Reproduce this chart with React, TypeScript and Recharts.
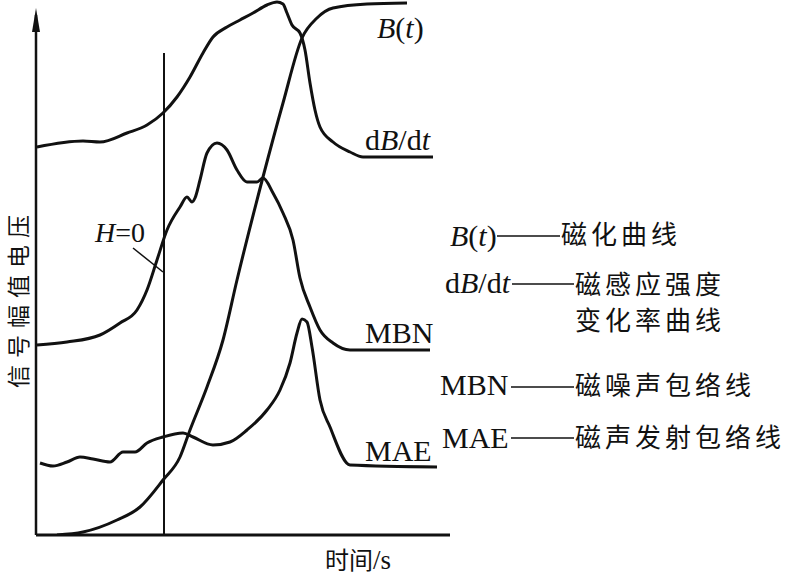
import React from "react";
import { LineChart, Line, XAxis, YAxis, ReferenceLine, ReferenceDot, Customized } from "recharts";

// time axis (px from y-axis) and signal amplitude (px above x-axis)
const bTime = [21, 47, 81, 104, 127, 144, 154, 171, 187, 201, 227, 247, 266, 281, 297, 331, 371];
const bValue = [0, 3, 15, 28, 55, 78, 105, 148, 195, 255, 358, 432, 497, 517, 527, 531, 532];

const dbTime = [1, 47, 64, 91, 111, 127, 141, 154, 167, 177, 191, 204, 217, 231, 241, 247, 251, 256, 264, 269, 274, 279, 284, 297, 314, 327, 397];
const dbValue = [388, 394, 393, 402, 410, 422, 438, 458, 482, 498, 508, 515, 522, 530, 533, 531, 522, 510, 502, 485, 452, 425, 408, 393, 383, 378, 378];

const mbnTime = [1, 31, 64, 84, 101, 111, 121, 131, 144, 151, 156, 159, 164, 171, 181, 191, 201, 211, 221, 227, 237, 247, 257, 264, 274, 284, 297, 314, 394];
const mbnValue = [190, 193, 200, 212, 225, 245, 275, 305, 328, 338, 333, 337, 355, 382, 392, 385, 365, 353, 353, 357, 342, 322, 295, 257, 228, 205, 192, 185, 185];

const maeTime = [4, 17, 31, 44, 57, 74, 87, 99, 111, 127, 147, 157, 177, 194, 211, 231, 244, 254, 261, 266, 271, 276, 284, 294, 314, 401];
const maeValue = [72, 69, 73, 78, 76, 73, 83, 83, 92, 98, 102, 98, 90, 93, 105, 125, 145, 172, 202, 216, 213, 188, 135, 108, 70, 68];

const H0_TIME = 128;

const toPoints = (ts: number[], vs: number[]) => ts.map((t, i) => ({ t, v: vs[i] }));

const SERIF = "'Liberation Serif', 'Times New Roman', serif";
const CJK = "'Noto Sans CJK SC', sans-serif";
const INK = "#111";

const cjk = { fontFamily: CJK, fontSize: 26, letterSpacing: 4, fill: INK };
const latin = { fontFamily: SERIF, fontSize: 30, fill: INK };

const Annotations = () => (
  <g>
    {/* curve labels */}
    <text x={377} y={38} {...latin}>
      <tspan fontStyle="italic">B</tspan>(<tspan fontStyle="italic">t</tspan>)
    </text>
    <text x={365} y={150} {...latin}>
      d<tspan fontStyle="italic">B</tspan>/d<tspan fontStyle="italic">t</tspan>
    </text>
    <text x={365} y={343} {...latin}>MBN</text>
    <text x={365} y={461} {...latin}>MAE</text>
    <text x={95} y={242} {...latin} fontSize={28}>
      <tspan fontStyle="italic">H</tspan>=0
    </text>

    {/* legend on the right */}
    <text x={450} y={246} {...latin}>
      <tspan fontStyle="italic">B</tspan>(<tspan fontStyle="italic">t</tspan>)
    </text>
    <line x1={497} y1={236} x2={560} y2={236} stroke={INK} strokeWidth={1.3} />
    <text x={561} y={244} {...cjk}>磁化曲线</text>

    <text x={445} y={293} {...latin}>
      d<tspan fontStyle="italic">B</tspan>/d<tspan fontStyle="italic">t</tspan>
    </text>
    <line x1={512} y1={284} x2={574} y2={284} stroke={INK} strokeWidth={1.3} />
    <text x={575} y={294} {...cjk}>磁感应强度</text>
    <text x={575} y={330} {...cjk}>变化率曲线</text>

    <text x={440} y={395} {...latin}>MBN</text>
    <line x1={511} y1={387} x2={574} y2={387} stroke={INK} strokeWidth={1.3} />
    <text x={575} y={395} {...cjk}>磁噪声包络线</text>

    <text x={442} y={448} {...latin}>MAE</text>
    <line x1={511} y1={438} x2={574} y2={438} stroke={INK} strokeWidth={1.3} />
    <text x={575} y={447} {...cjk}>磁声发射包络线</text>

    {/* axis titles */}
    <text
      x={17}
      y={298}
      transform="rotate(-90 17 298)"
      textAnchor="middle"
      dominantBaseline="central"
      fontFamily={CJK}
      fontSize={23}
      letterSpacing={7}
      fill={INK}
    >
      信号幅值电压
    </text>
    <text x={325} y={569} fill={INK}>
      <tspan fontFamily={CJK} fontSize={24}>时间</tspan>
      <tspan fontFamily={SERIF} fontSize={27}>/s</tspan>
    </text>
  </g>
);

const Arrow = (props: any) => {
  const { cx, cy } = props;
  return <path d={`M${cx},${cy} L${cx - 4},${cy + 24} L${cx + 4},${cy + 24} Z`} fill={INK} />;
};

export default function App() {
  const curves = [
    { key: "b", data: toPoints(bTime, bValue) },
    { key: "db", data: toPoints(dbTime, dbValue) },
    { key: "mbn", data: toPoints(mbnTime, mbnValue) },
    { key: "mae", data: toPoints(maeTime, maeValue) },
  ];
  return (
    <div style={{ position: "absolute", left: 0, top: 0, background: "#fff" }}>
      <LineChart width={790} height={579} margin={{ top: 0, right: 340, bottom: 44, left: 36 }}>
        <XAxis type="number" dataKey="t" domain={[0, 414]} hide allowDataOverflow />
        <YAxis type="number" dataKey="v" domain={[0, 535]} hide allowDataOverflow />
        <ReferenceLine segment={[{ x: 0, y: 0 }, { x: 414, y: 0 }]} stroke={INK} strokeWidth={3} />
        <ReferenceLine segment={[{ x: 0, y: 0 }, { x: 0, y: 520 }]} stroke={INK} strokeWidth={2.5} />
        <ReferenceDot x={0} y={527} r={4} shape={Arrow} />
        <ReferenceLine segment={[{ x: H0_TIME, y: 0 }, { x: H0_TIME, y: 482 }]} stroke={INK} strokeWidth={2} />
        <ReferenceLine segment={[{ x: 97, y: 287 }, { x: 127, y: 263 }]} stroke={INK} strokeWidth={1.5} />
        {curves.map((c) => (
          <Line
            key={c.key}
            data={c.data}
            dataKey="v"
            type="monotone"
            stroke={INK}
            strokeWidth={3}
            dot={false}
            activeDot={false}
            isAnimationActive={false}
          />
        ))}
        <Customized component={Annotations} />
      </LineChart>
    </div>
  );
}
